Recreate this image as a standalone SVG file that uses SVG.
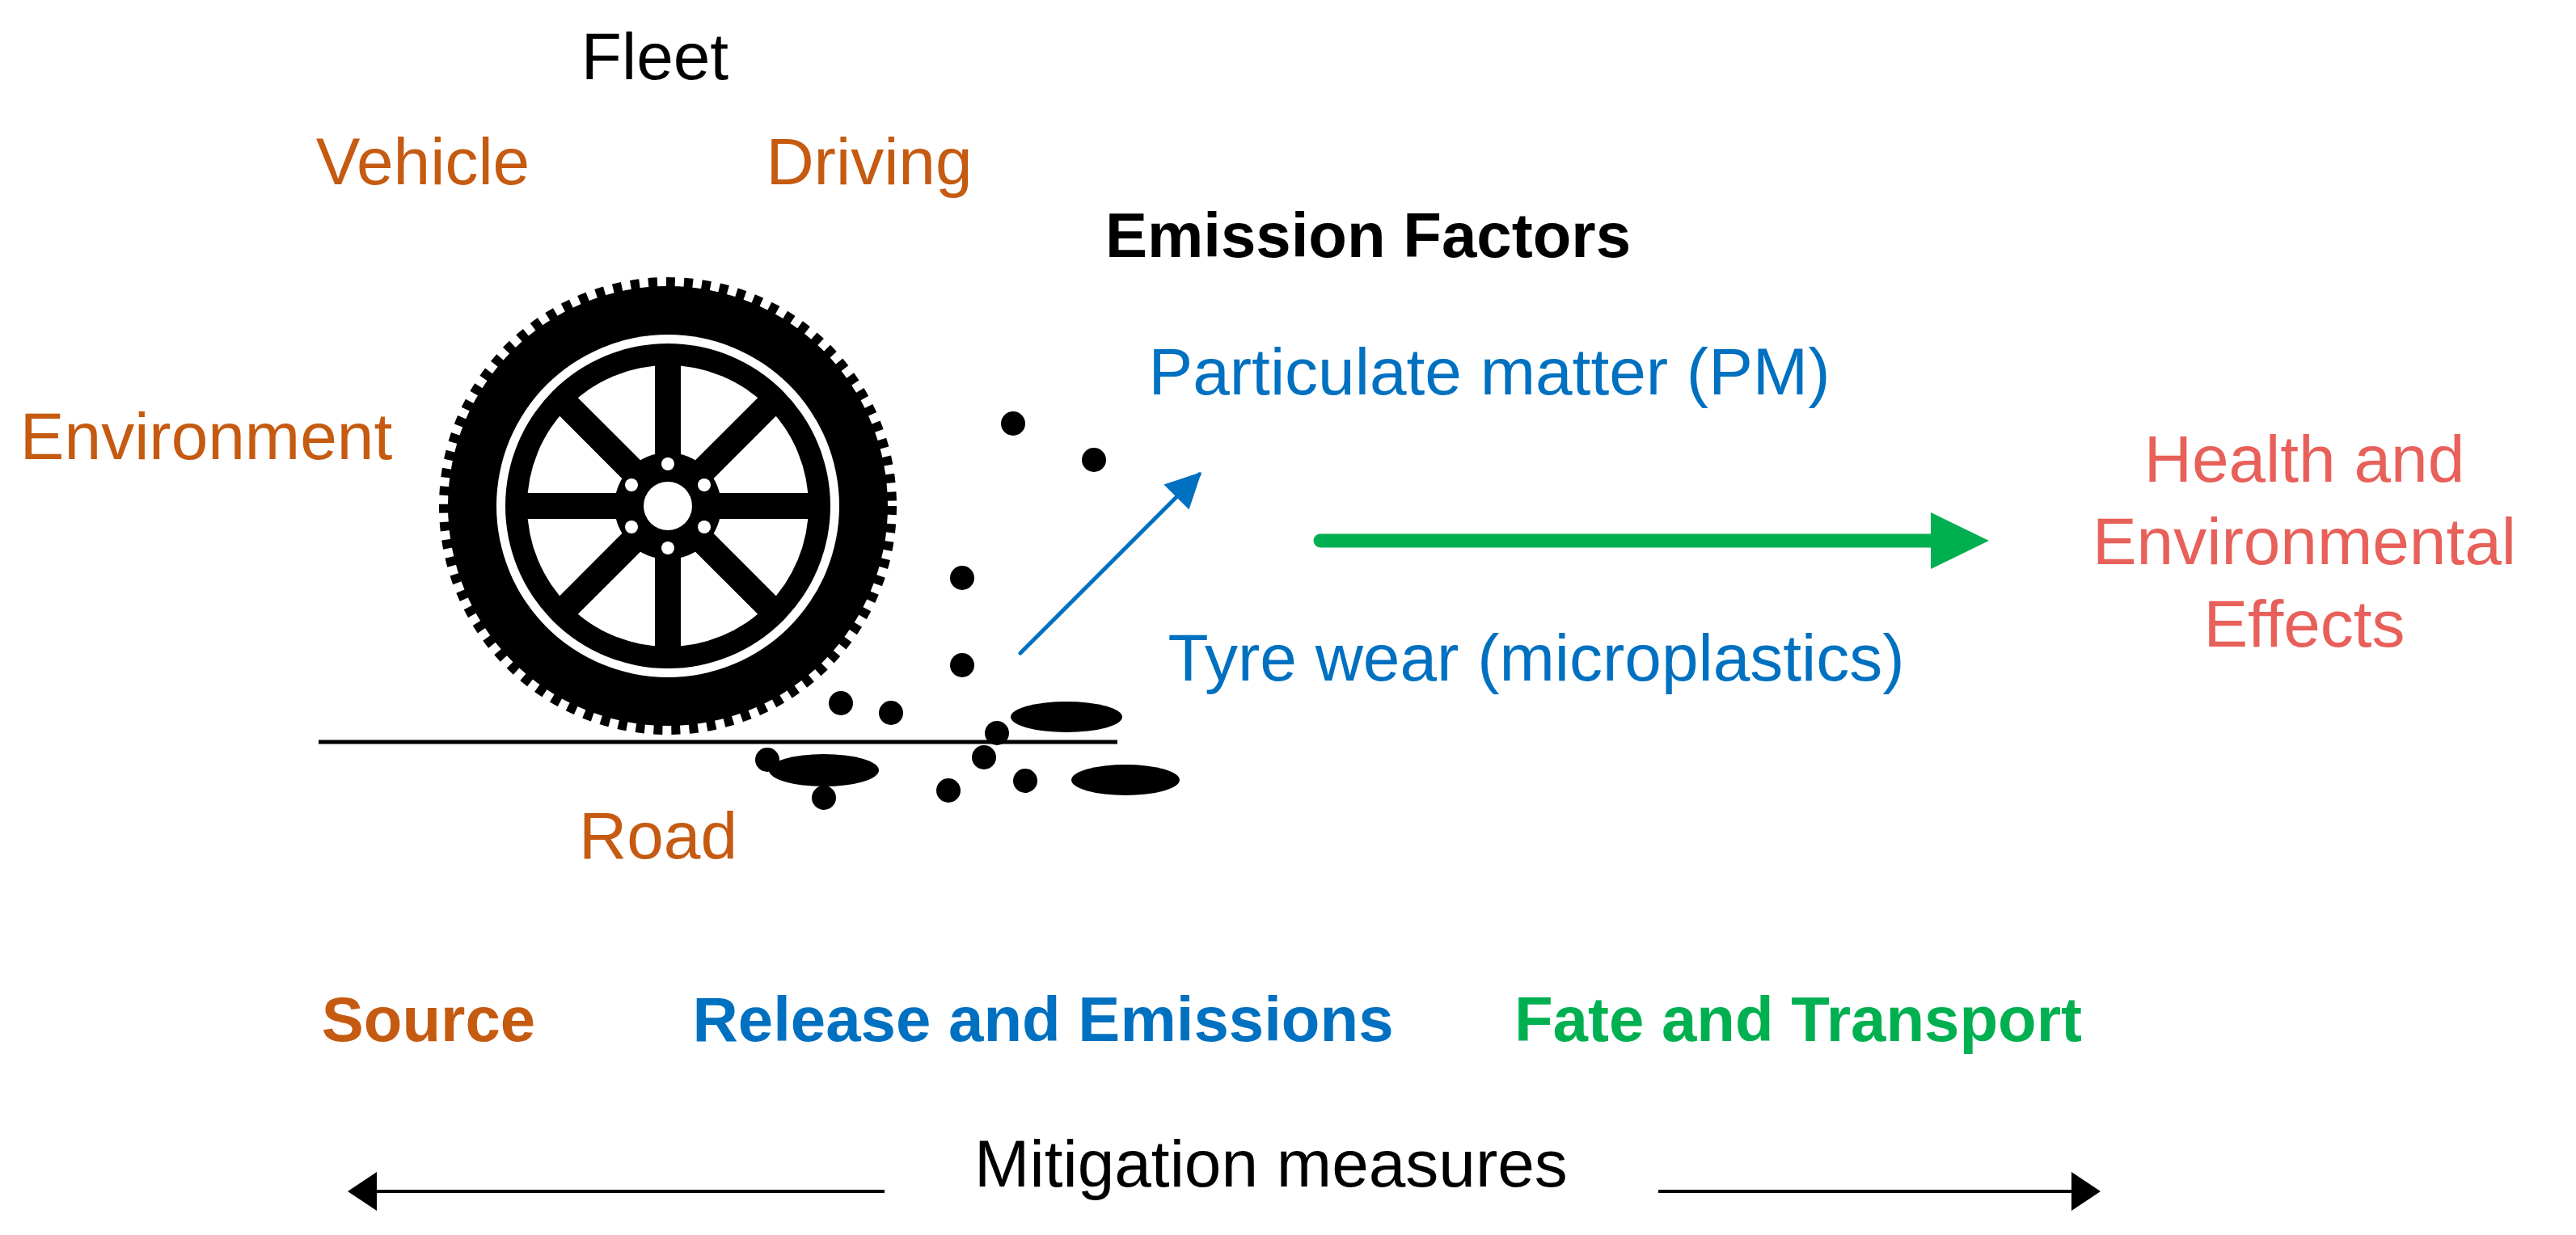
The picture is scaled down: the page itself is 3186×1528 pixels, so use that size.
<svg xmlns="http://www.w3.org/2000/svg" width="3186" height="1528" viewBox="0 0 3186 1528">
<style>
text{font-family:"Liberation Sans",Arial,sans-serif;font-size:82px;text-anchor:middle}
.o{fill:#C55A11}.b{fill:#0070C0}.g{fill:#00B050}.r{fill:#E8605A}.k{fill:#000}
.bd{font-weight:bold;font-size:78px}
</style>
<defs>
<marker id="ab" viewBox="0 0 10 10" refX="9" refY="5" markerWidth="50" markerHeight="44" markerUnits="userSpaceOnUse" orient="auto"><path d="M0,0L10,5L0,10Z" fill="#0070C0"/></marker>
</defs>
<rect width="3186" height="1528" fill="#fff"/>
<g id="tyre">
<circle cx="826" cy="626" r="272" fill="#000"/>
<circle cx="826" cy="626" r="276" fill="none" stroke="#000" stroke-width="14" stroke-dasharray="11 11"/>
<circle cx="826" cy="626" r="212" fill="#fff"/>
<circle cx="826" cy="626" r="201" fill="#000"/>
<circle cx="826" cy="626" r="174" fill="#fff"/>
<g fill="#000">
<rect x="810" y="450" width="32" height="352"/>
<rect x="810" y="450" width="32" height="352" transform="rotate(45 826 626)"/>
<rect x="810" y="450" width="32" height="352" transform="rotate(90 826 626)"/>
<rect x="810" y="450" width="32" height="352" transform="rotate(135 826 626)"/>
<circle cx="826" cy="626" r="66"/>
</g>
<g fill="#fff">
<circle cx="826" cy="626" r="30"/>
<circle cx="826" cy="574" r="8"/><circle cx="826" cy="678" r="8"/>
<circle cx="871" cy="600" r="8"/><circle cx="871" cy="652" r="8"/>
<circle cx="781" cy="600" r="8"/><circle cx="781" cy="652" r="8"/>
</g>
</g>
<g id="road"><line x1="394" y1="918" x2="1382" y2="918" stroke="#000" stroke-width="5"/></g>
<g id="particles" fill="#000">
<circle cx="1253" cy="524" r="15"/><circle cx="1353" cy="569" r="15"/>
<circle cx="1190" cy="715" r="15"/><circle cx="1190" cy="823" r="15"/>
<circle cx="1040" cy="870" r="15"/><circle cx="1102" cy="882" r="15"/>
<circle cx="1233" cy="907" r="15"/><circle cx="1217" cy="937" r="15"/>
<circle cx="949" cy="940" r="15"/><circle cx="1019" cy="987" r="15"/>
<circle cx="1173" cy="978" r="15"/><circle cx="1268" cy="966" r="15"/>
<ellipse cx="1319" cy="887" rx="69" ry="19"/>
<ellipse cx="1019" cy="953" rx="68" ry="20"/>
<ellipse cx="1392" cy="965" rx="67" ry="19"/>
</g>
<g id="connectors">
<line x1="1262" y1="808" x2="1483" y2="587" stroke="#0070C0" stroke-width="5" stroke-linecap="round" marker-end="url(#ab)"/>
<path d="M1633,669H2392" stroke="#00B050" stroke-width="17" stroke-linecap="round"/>
<path d="M2388,634L2460,669L2388,704Z" fill="#00B050"/>
<path d="M1094,1474H450" stroke="#000" stroke-width="4"/>
<path d="M466,1450L430,1474L466,1498Z" fill="#000"/>
<path d="M2051,1474H2580" stroke="#000" stroke-width="4"/>
<path d="M2562,1450L2598,1474L2562,1498Z" fill="#000"/>
</g>
<g id="labels">
<text class="k" x="810" y="98">Fleet</text>
<text class="o" x="523" y="228">Vehicle</text>
<text class="o" x="1075" y="228">Driving</text>
<text class="k bd" x="1692" y="318">Emission Factors</text>
<text class="b" x="1842" y="488">Particulate matter (PM)</text>
<text class="o" x="255" y="568">Environment</text>
<text class="r" x="2850" y="596">Health and</text>
<text class="r" x="2850" y="698">Environmental</text>
<text class="r" x="2850" y="800">Effects</text>
<text class="b" x="1900" y="842">Tyre wear (microplastics)</text>
<text class="o" x="814" y="1062">Road</text>
<text class="o bd" x="530" y="1288">Source</text>
<text class="b bd" x="1290" y="1288">Release and Emissions</text>
<text class="g bd" x="2224" y="1288">Fate and Transport</text>
<text class="k" x="1572" y="1468">Mitigation measures</text>
</g>
</svg>
